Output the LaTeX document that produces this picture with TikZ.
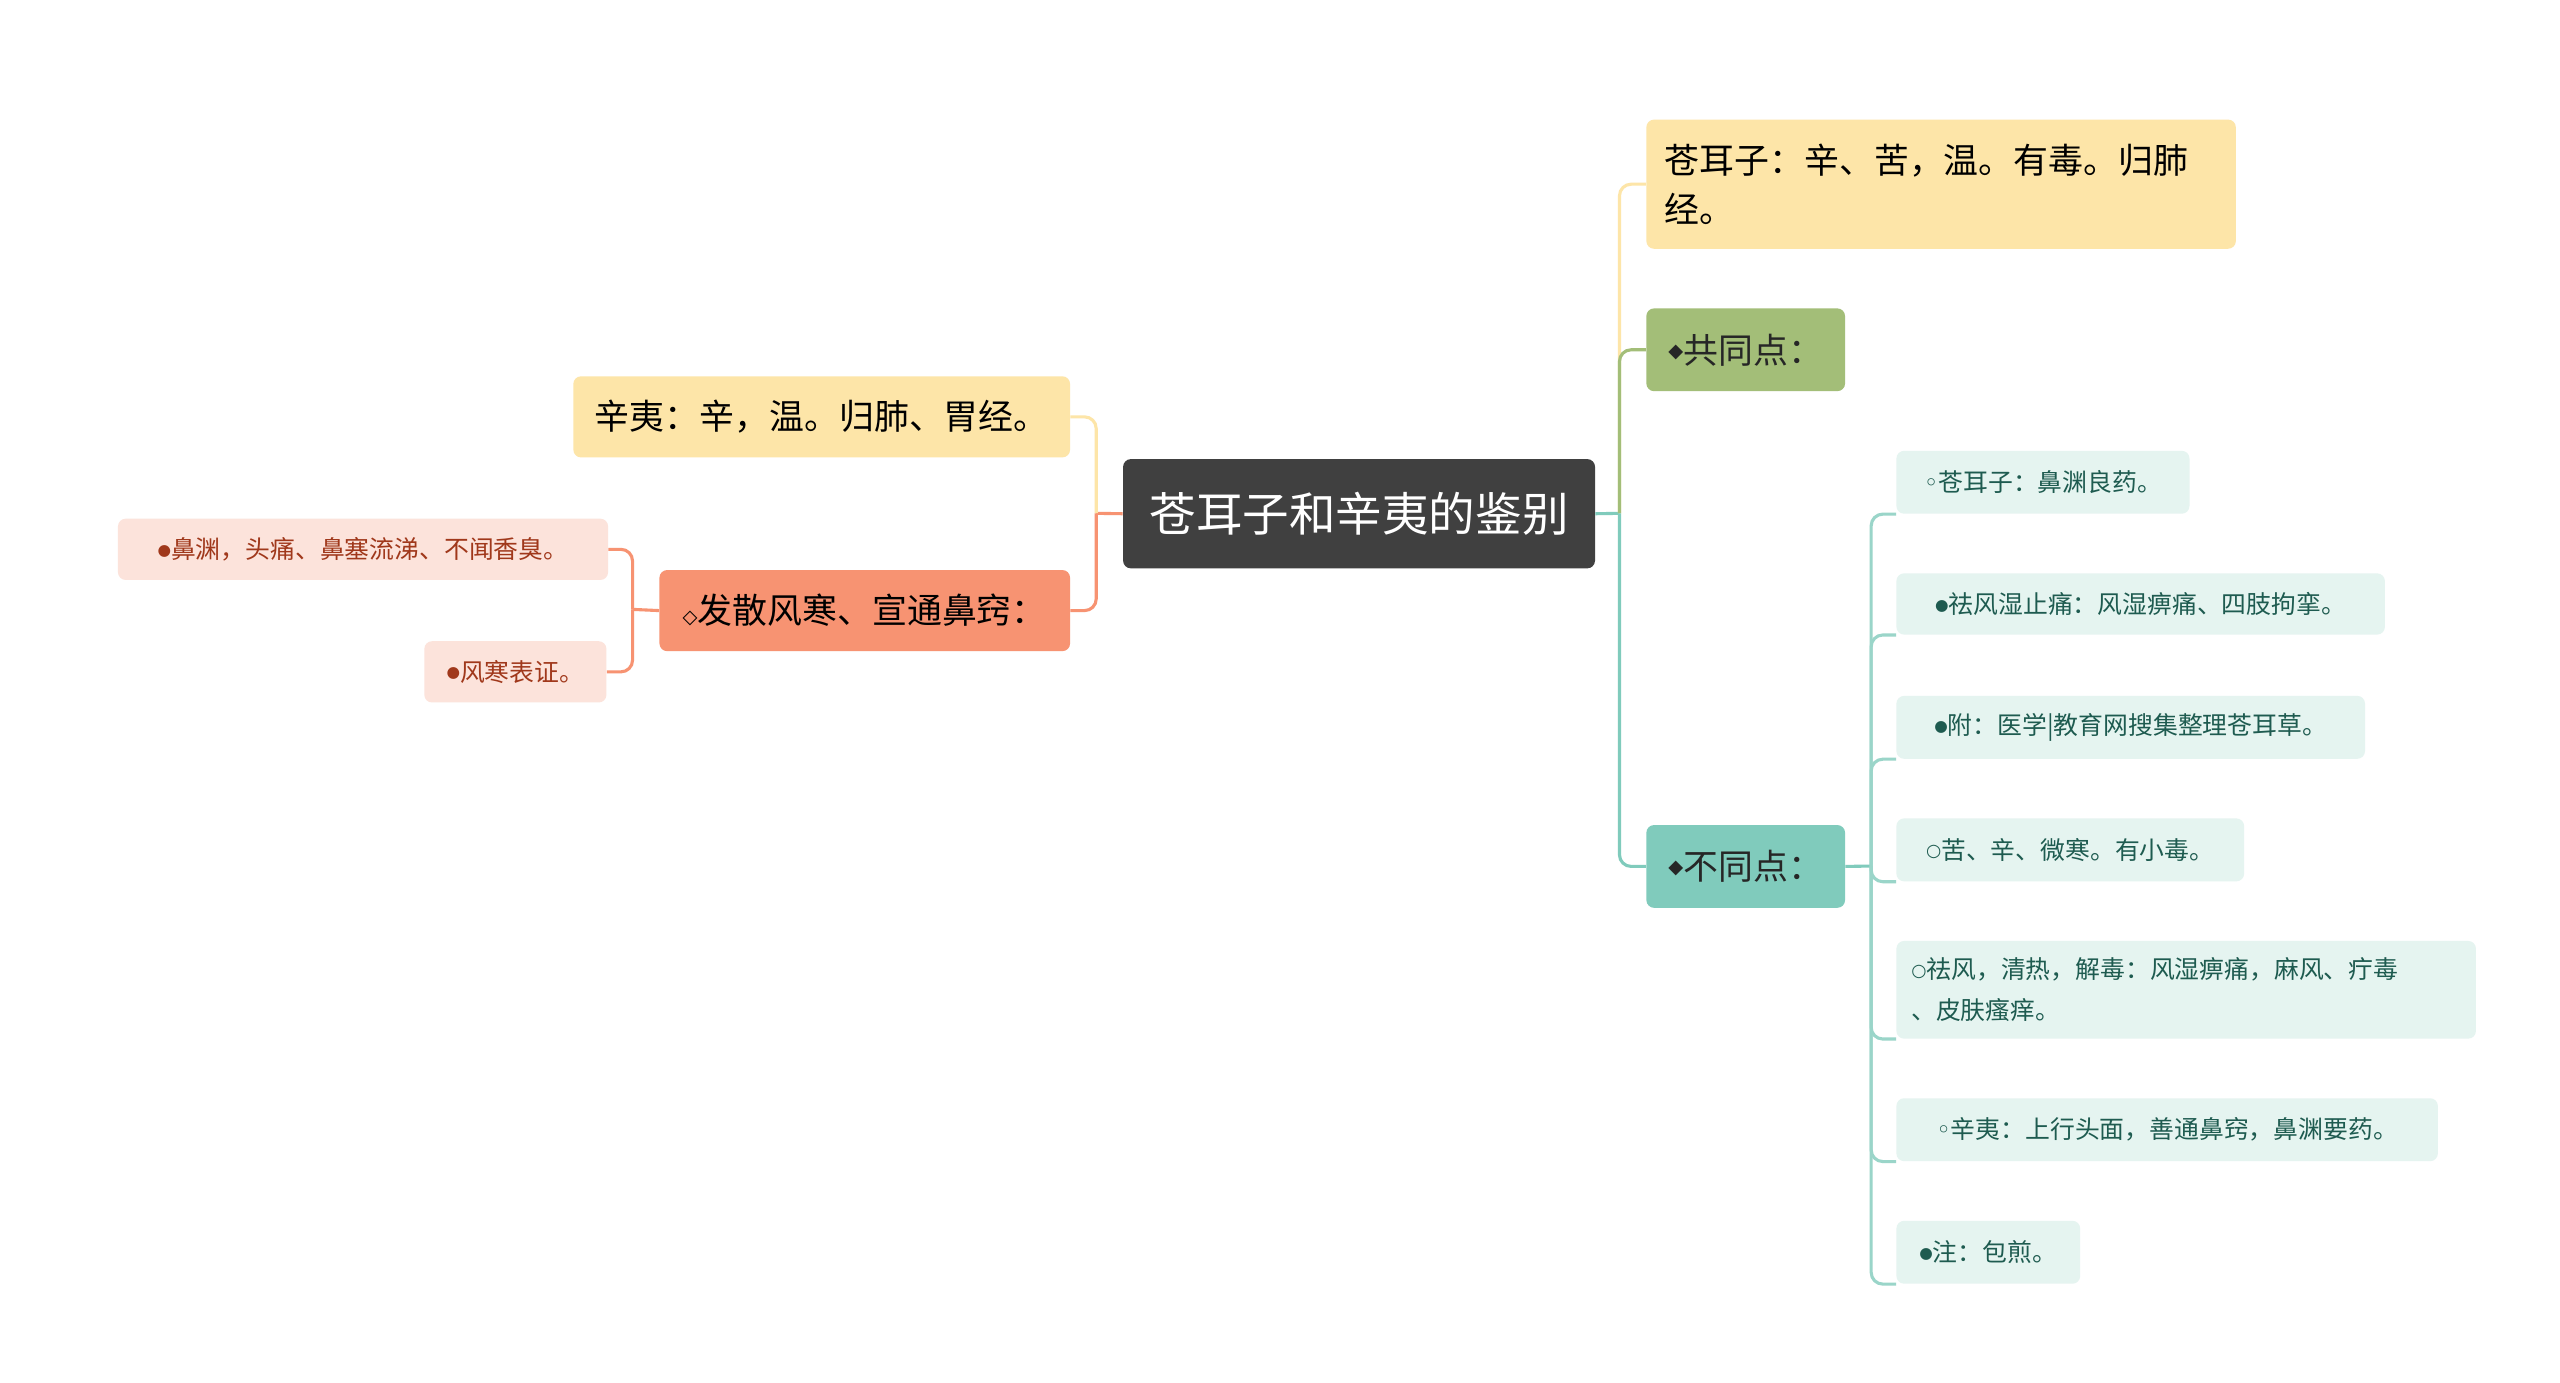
\documentclass[tikz,border=0pt]{standalone}
\usepackage{fontspec}
\setmainfont{Noto Sans CJK SC}
\newfontfamily\sym{DejaVu Sans}
\newcommand\bfull{\raisebox{0.25ex}{\sym\fontsize{8}{8}\selectfont ●}}
\newcommand\bring{\raisebox{0.2ex}{\sym\fontsize{9}{9}\selectfont ○}}
\newcommand\bsm{{\sym ◦}}
\newcommand\bdia{\raisebox{0.3ex}{\sym\fontsize{10}{10}\selectfont ◆}}
\begin{document}
\begin{tikzpicture}[x=0.03cm,y=-0.03cm,
 box/.style={rounded corners=4pt,inner sep=0pt,anchor=north west,align=left},
 lf/.style={box,fill=leafT,text=leafTx,font=\fontsize{12.8}{16}\selectfont},
 lfl/.style={box,fill=leafS,text=leafSx,font=\fontsize{12.8}{16}\selectfont},
 con/.style={line width=1.6pt,rounded corners=6pt}]
\definecolor{yel}{HTML}{FDE5A8}\definecolor{grn}{HTML}{A3BE78}\definecolor{teal}{HTML}{80CBBC}
\definecolor{sal}{HTML}{F79372}\definecolor{leafT}{HTML}{E5F4F0}\definecolor{leafTx}{HTML}{1E5B50}
\definecolor{leafS}{HTML}{FCE3DB}\definecolor{leafSx}{HTML}{A0381B}
\useasboundingbox (0,0) rectangle (1546,835);
\fill[white] (0,0) rectangle (1546,835);
% nodes
\node[box,fill=black!75,text=white,minimum width=285*0.03cm,minimum height=66*0.03cm,align=center,font=\fontsize{24}{28}\selectfont] (c) at (678,277) {苍耳子和辛夷的鉴别};
\node[box,fill=yel,text width=334*0.03cm,minimum height=78*0.03cm,inner xsep=11*0.03cm,font=\fontsize{18}{25}\selectfont] (r1) at (994,72) {苍耳子：辛、苦，温。有毒。归肺\newline 经。};
\node[box,fill=grn,text=black!85,minimum width=120*0.03cm,minimum height=50*0.03cm,inner xsep=10*0.03cm,font=\fontsize{18}{22}\selectfont] (r2) at (994,186) {\bdia 共同点：};
\node[box,fill=teal,text=black!85,minimum width=120*0.03cm,minimum height=50*0.03cm,inner xsep=10*0.03cm,font=\fontsize{18}{22}\selectfont] (r3) at (994,498) {\bdia 不同点：};
\node[lf,minimum width=177*0.03cm,minimum height=38*0.03cm,inner xsep=8*0.03cm] (a1) at (1145,272) {\bsm 苍耳子：鼻渊良药。};
\node[lf,minimum width=295*0.03cm,minimum height=37*0.03cm,inner xsep=8*0.03cm] (a2) at (1145,346) {\bfull 祛风湿止痛：风湿痹痛、四肢拘挛。};
\node[lf,minimum width=283*0.03cm,minimum height=38*0.03cm,inner xsep=8*0.03cm] (a3) at (1145,420) {\bfull 附：医学|教育网搜集整理苍耳草。};
\node[lf,minimum width=210*0.03cm,minimum height=38*0.03cm,inner xsep=8*0.03cm] (a4) at (1145,494) {\bring 苦、辛、微寒。有小毒。};
\node[lf,text width=332*0.03cm,minimum height=59*0.03cm,inner xsep=9*0.03cm,font=\fontsize{12.8}{21}\selectfont] (a5) at (1145,568) {\bring 祛风，清热，解毒：风湿痹痛，麻风、疔毒\newline 、皮肤瘙痒。};
\node[lf,minimum width=327*0.03cm,minimum height=38*0.03cm,inner xsep=8*0.03cm] (a6) at (1145,663) {\bsm 辛夷：上行头面，善通鼻窍，鼻渊要药。};
\node[lf,minimum width=111*0.03cm,minimum height=38*0.03cm,inner xsep=8*0.03cm] (a7) at (1145,737) {\bfull 注：包煎。};
\node[box,fill=yel,minimum width=300*0.03cm,minimum height=49*0.03cm,inner xsep=11*0.03cm,font=\fontsize{18}{22}\selectfont] (l1) at (346,227) {辛夷：辛，温。归肺、胃经。};
\node[box,fill=sal,minimum width=248*0.03cm,minimum height=49*0.03cm,inner xsep=11*0.03cm,font=\fontsize{18}{22}\selectfont] (l2) at (398,344) {{\sym\fontsize{10}{10}\selectfont ◇}发散风寒、宣通鼻窍：};
\node[lfl,minimum width=296*0.03cm,minimum height=37*0.03cm,inner xsep=10*0.03cm] (b1) at (71,313) {\bfull 鼻渊，头痛、鼻塞流涕、不闻香臭。};
\node[lfl,minimum width=110*0.03cm,minimum height=37*0.03cm,inner xsep=10*0.03cm] (b2) at (256,387) {\bfull 风寒表证。};
% connectors
\coordinate (cr) at (978,310); \coordinate (cl) at (662,310);
\draw[con,teal] (c.east) -- (cr);
\draw[con,yel] (cr) |- (r1.west);
\draw[con,grn] (cr) |- (r2.west);
\draw[con,teal] (cr) |- (r3.west);
\coordinate (dr) at (1130,523);
\draw[con,teal] (r3.east) -- (dr);
\foreach \n in {a1,a2,a3,a4,a5,a6,a7} \draw[con,teal!80] (dr) |- (\n.south west);
\draw[con,sal] (c.west) -- (cl);
\draw[con,yel] (cl) |- (l1.east);
\draw[con,sal] (cl) |- (l2.east);
\coordinate (dl) at (382,368);
\draw[con,sal] (l2.west) -- (dl);
\draw[con,sal] (dl) |- (b1.east);
\draw[con,sal] (dl) |- (b2.east);
\end{tikzpicture}
\end{document}
